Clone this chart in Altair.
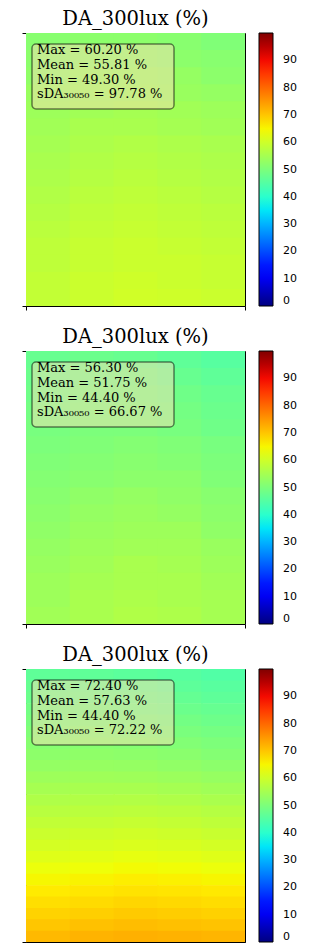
import altair as alt
import pandas as pd

# ---------------- data ----------------
title_text = "DA_300lux (%)"
n_cols = 5

# DA values (rows top -> bottom, columns left -> right)
panel1 = [
    [51.5, 52.0, 52.0, 51.5, 50.5],
    [52.0, 52.5, 52.5, 52.0, 51.5],
    [52.5, 53.5, 53.5, 53.0, 52.0],
    [53.5, 54.0, 54.0, 53.5, 53.0],
    [54.0, 54.5, 55.0, 54.5, 54.0],
    [54.5, 55.5, 55.5, 55.0, 54.5],
    [55.0, 56.0, 56.5, 56.0, 55.5],
    [55.5, 56.5, 57.0, 56.5, 56.0],
    [56.0, 57.0, 57.5, 57.0, 56.5],
    [56.5, 57.5, 58.0, 57.5, 57.0],
    [57.0, 58.0, 58.5, 58.0, 57.5],
    [57.5, 58.5, 59.0, 58.5, 58.0],
    [58.0, 59.0, 59.5, 59.0, 58.5],
    [58.0, 59.0, 59.5, 59.5, 59.0],
    [58.5, 59.5, 60.0, 59.5, 59.0],
    [58.5, 59.5, 60.2, 60.0, 59.5],
]
panel2 = [
    [47.5, 48.0, 47.5, 46.5, 45.5],
    [48.0, 48.5, 48.5, 47.5, 46.5],
    [48.5, 49.0, 49.0, 48.5, 47.5],
    [49.0, 49.5, 49.5, 49.0, 48.0],
    [49.5, 50.0, 50.0, 49.5, 48.5],
    [50.0, 50.5, 51.0, 50.5, 49.5],
    [50.5, 51.0, 51.5, 51.0, 50.0],
    [51.0, 51.5, 52.0, 52.0, 50.5],
    [51.5, 52.5, 53.0, 52.5, 51.5],
    [52.0, 53.0, 53.5, 53.0, 52.0],
    [52.5, 53.5, 54.0, 54.0, 52.5],
    [53.0, 54.0, 54.5, 54.5, 53.5],
    [53.5, 54.5, 55.5, 55.0, 54.0],
    [54.0, 55.0, 55.5, 55.5, 54.5],
    [54.0, 55.5, 56.0, 55.5, 55.0],
    [54.5, 55.5, 56.3, 56.0, 55.0],
]
panel3 = [
    [46.5, 46.5, 46.0, 45.5, 44.8],
    [47.3, 47.3, 46.8, 46.3, 45.6],
    [48.0, 48.0, 47.6, 47.1, 46.4],
    [48.9, 48.9, 48.5, 48.0, 47.3],
    [49.7, 49.8, 49.4, 48.9, 48.2],
    [50.5, 50.7, 50.3, 49.8, 49.2],
    [51.3, 51.5, 51.2, 50.8, 50.1],
    [52.1, 52.3, 52.1, 51.7, 51.0],
    [52.9, 53.2, 53.0, 52.6, 52.0],
    [54.0, 54.3, 54.2, 53.8, 53.2],
    [55.1, 55.4, 55.4, 55.0, 54.4],
    [56.2, 56.5, 56.6, 56.2, 55.6],
    [57.3, 57.6, 57.8, 57.5, 56.9],
    [58.4, 58.7, 59.0, 58.7, 58.1],
    [59.5, 59.9, 60.2, 59.9, 59.3],
    [60.7, 61.1, 61.5, 61.2, 60.6],
    [62.1, 62.6, 63.0, 62.7, 62.1],
    [63.6, 64.0, 64.5, 64.2, 63.6],
    [64.9, 65.3, 65.8, 65.5, 65.0],
    [66.1, 66.5, 67.0, 66.7, 66.3],
    [67.4, 67.8, 68.3, 68.0, 67.6],
    [68.7, 69.1, 69.6, 69.3, 68.9],
    [70.0, 70.6, 71.0, 70.7, 70.3],
    [71.4, 72.0, 72.4, 72.2, 71.8],
]

stat_max = [60.20, 56.30, 72.40]
stat_mean = [55.81, 51.75, 57.63]
stat_min = [49.30, 44.40, 44.40]
stat_sda = [97.78, 66.67, 72.22]

colorbar_ticks = [0, 10, 20, 30, 40, 50, 60, 70, 80, 90]

# matplotlib "jet" colormap stops (percent -> colour)
jet_domain = [0, 11, 12.5, 34, 35, 37.5, 64, 65, 66, 89, 91, 100]
jet_range = ["#000080", "#0000ff", "#0000ff", "#00dbff", "#00e6f7", "#15ffe2",
             "#efff08", "#f7f600", "#ffec00", "#ff1300", "#e80000", "#800000"]

W, H = 219, 273
SERIF = "DejaVu Serif"


def grid_df(grid):
    recs = []
    for r, row in enumerate(grid):
        for c, v in enumerate(row):
            recs.append({"col": c, "row": r, "value": v})
    return pd.DataFrame(recs)


def make_panel(i, grid):
    df = grid_df(grid)
    n_rows = len(grid)
    cscale = alt.Scale(domain=jet_domain, range=jet_range, interpolate="rgb", clamp=True)
    heat = (
        alt.Chart(df)
        # cells overlap slightly so that no hairline seams show between them
        .transform_calculate(col2="datum.col + 1.03", row2="datum.row + 1.06")
        .mark_rect(clip=True)
        .encode(
            x=alt.X("col:Q", scale=alt.Scale(domain=[0, n_cols], nice=False, zero=False),
                    axis=alt.Axis(values=[0, n_cols], labels=False, domain=False, grid=False,
                                  ticks=True, tickSize=4, tickColor="black", title=None,
                                  minExtent=0)),
            x2="col2:Q",
            y=alt.Y("row:Q", scale=alt.Scale(domain=[0, n_rows], nice=False, zero=False, reverse=True),
                    axis=alt.Axis(values=[0, n_rows], labels=False, domain=False, grid=False,
                                  ticks=True, tickSize=4, tickColor="black", title=None,
                                  minExtent=0)),
            y2="row2:Q",
            color=alt.Color("value:Q", scale=cscale,
                            legend=alt.Legend(type="gradient", title=None, orient="right",
                                              offset=14, padding=0,
                                              gradientLength=H, gradientThickness=14,
                                              gradientStrokeColor="black", gradientStrokeWidth=1,
                                              values=colorbar_ticks, labelOverlap=False,
                                              labelFont="DejaVu Sans", labelFontSize=11,
                                              labelColor="black", labelOffset=10,
                                              labelBaseline="middle")),
        )
    )
    txt = "\n".join([
        f"Max = {stat_max[i]:.2f} %",
        f"Mean = {stat_mean[i]:.2f} %",
        f"Min = {stat_min[i]:.2f} %",
        f"sDA\u2083\u2080\u2080\u2085\u2080 = {stat_sda[i]:.2f} %",
    ])
    stats_df = pd.DataFrame({"text": [txt]})
    box = alt.Chart(stats_df).mark_rect(
        cornerRadius=4, fill="wheat", fillOpacity=0.5, stroke="black",
        strokeOpacity=0.5, strokeWidth=1.5
    ).encode(x=alt.value(6), x2=alt.value(148), y=alt.value(11), y2=alt.value(76))
    label = alt.Chart(stats_df).mark_text(
        align="left", baseline="top", font=SERIF, fontSize=13, lineHeight=14.8,
        lineBreak="\n", color="black"
    ).encode(x=alt.value(11), y=alt.value(11), text="text:N")
    return alt.layer(heat, box, label).properties(
        width=W, height=H,
        title=alt.TitleParams(title_text, font=SERIF, fontSize=19.5, fontWeight="normal",
                              color="black", anchor="middle", offset=3),
    )


chart = (
    alt.vconcat(make_panel(0, panel1), make_panel(1, panel2), make_panel(2, panel3), spacing=15)
    .resolve_scale(color="independent")
    .properties(padding={"left": 13, "top": 0, "right": 5, "bottom": 0})
    .configure_view(stroke="black", strokeWidth=1)
)

chart.save("out.html", embed_options={"renderer": "svg", "actions": False})
